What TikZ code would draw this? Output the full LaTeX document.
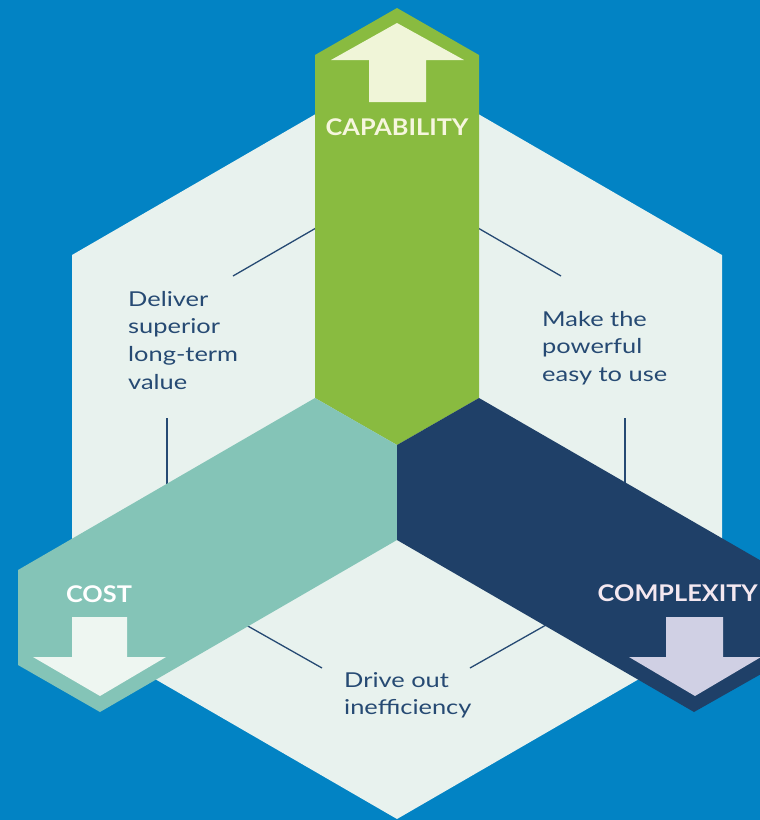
\documentclass[tikz,border=0pt]{standalone}
\usepackage{fontspec}
\setmainfont{Lato}
\newfontfamily\bodyfont[FakeStretch=1.24]{Lato}
\newfontfamily\capfont[FakeStretch=1.1]{Lato}
\definecolor{bgblue}{RGB}{2,131,196}
\definecolor{hexpale}{RGB}{232,242,238}
\definecolor{capgreen}{RGB}{137,187,64}
\definecolor{costteal}{RGB}{132,196,183}
\definecolor{cxnavy}{RGB}{31,64,104}
\definecolor{txtnavy}{RGB}{38,74,115}
\definecolor{arrcap}{RGB}{240,245,216}
\definecolor{arrcost}{RGB}{238,246,241}
\definecolor{arrcx}{RGB}{208,208,228}
\definecolor{capcream}{RGB}{246,246,222}
\definecolor{cxpink}{RGB}{244,232,240}
\tikzset{
  leader/.style={draw=txtnavy, line width=1.3pt},
  bodytext/.style={text=txtnavy, align=left, inner sep=0pt, anchor=north west,
    font=\bodyfont\fontsize{20.5}{27.6}\selectfont},
  armlabel/.style={inner sep=0pt, anchor=base, font=\capfont\fontsize{23}{27}\selectfont\bfseries}
}
\begin{document}
\begin{tikzpicture}[x=1pt,y=-1pt]
\fill[bgblue] (0,0) rectangle (760,820);
\useasboundingbox (0,0) rectangle (760,820);
% pale hexagon
\fill[hexpale] (397,67) -- (722,255) -- (722,631) -- (397,819) -- (72,631) -- (72,255) -- cycle;
% leader lines
\coordinate (l1a) at (233,276); \coordinate (l1b) at (316,228);
\coordinate (l2a) at (478,228); \coordinate (l2b) at (561,276);
\coordinate (l3a) at (167,418); \coordinate (l3b) at (167,486);
\coordinate (l4a) at (625,418); \coordinate (l4b) at (625,486);
\coordinate (l5a) at (246,625); \coordinate (l5b) at (322,668);
\coordinate (l6a) at (470,668); \coordinate (l6b) at (546,625);
\draw[leader] (l1a) -- (l1b);
\draw[leader] (l2a) -- (l2b);
\draw[leader] (l3a) -- (l3b);
\draw[leader] (l4a) -- (l4b);
\draw[leader] (l5a) -- (l5b);
\draw[leader] (l6a) -- (l6b);
% arms
\fill[capgreen] (315,398) -- (315,55) -- (397,8) -- (479,55) -- (479,398) -- (397,445) -- cycle;
\fill[costteal] (397,445) -- (315,398) -- (18,570) -- (18,665) -- (100,712) -- (397,540) -- cycle;
\fill[cxnavy] (397,445) -- (479,398) -- (777,570) -- (777,665) -- (694,712) -- (397,540) -- cycle;
% arrows
\fill[arrcap] (369,102) -- (369,60) -- (331,60) -- (397,23) -- (464,60) -- (426,60) -- (426,102) -- cycle;
\fill[arrcost] (72,617) -- (127,617) -- (127,657) -- (166,657) -- (100,696) -- (33,657) -- (72,657) -- cycle;
\fill[arrcx] (666,617) -- (723,617) -- (723,657) -- (761,657) -- (695,696) -- (629,657) -- (666,657) -- cycle;
% arm labels
\node[armlabel, text=capcream] (cap) at (397,135) {CAPABILITY};
\node[armlabel, text=white] (cost) at (99,602) {COST};
\node[armlabel, text=cxpink, anchor=base east] (cx) at (758,601) {COMPLEXITY};
% body texts
\node[bodytext] (t1) at (128,291) {Deliver\\superior\\long-term\\value};
\node[bodytext] (t2) at (542,311) {Make the\\powerful\\easy to use};
\node[bodytext] (t3) at (344,672) {Drive out\\inefficiency};
\end{tikzpicture}
\end{document}
